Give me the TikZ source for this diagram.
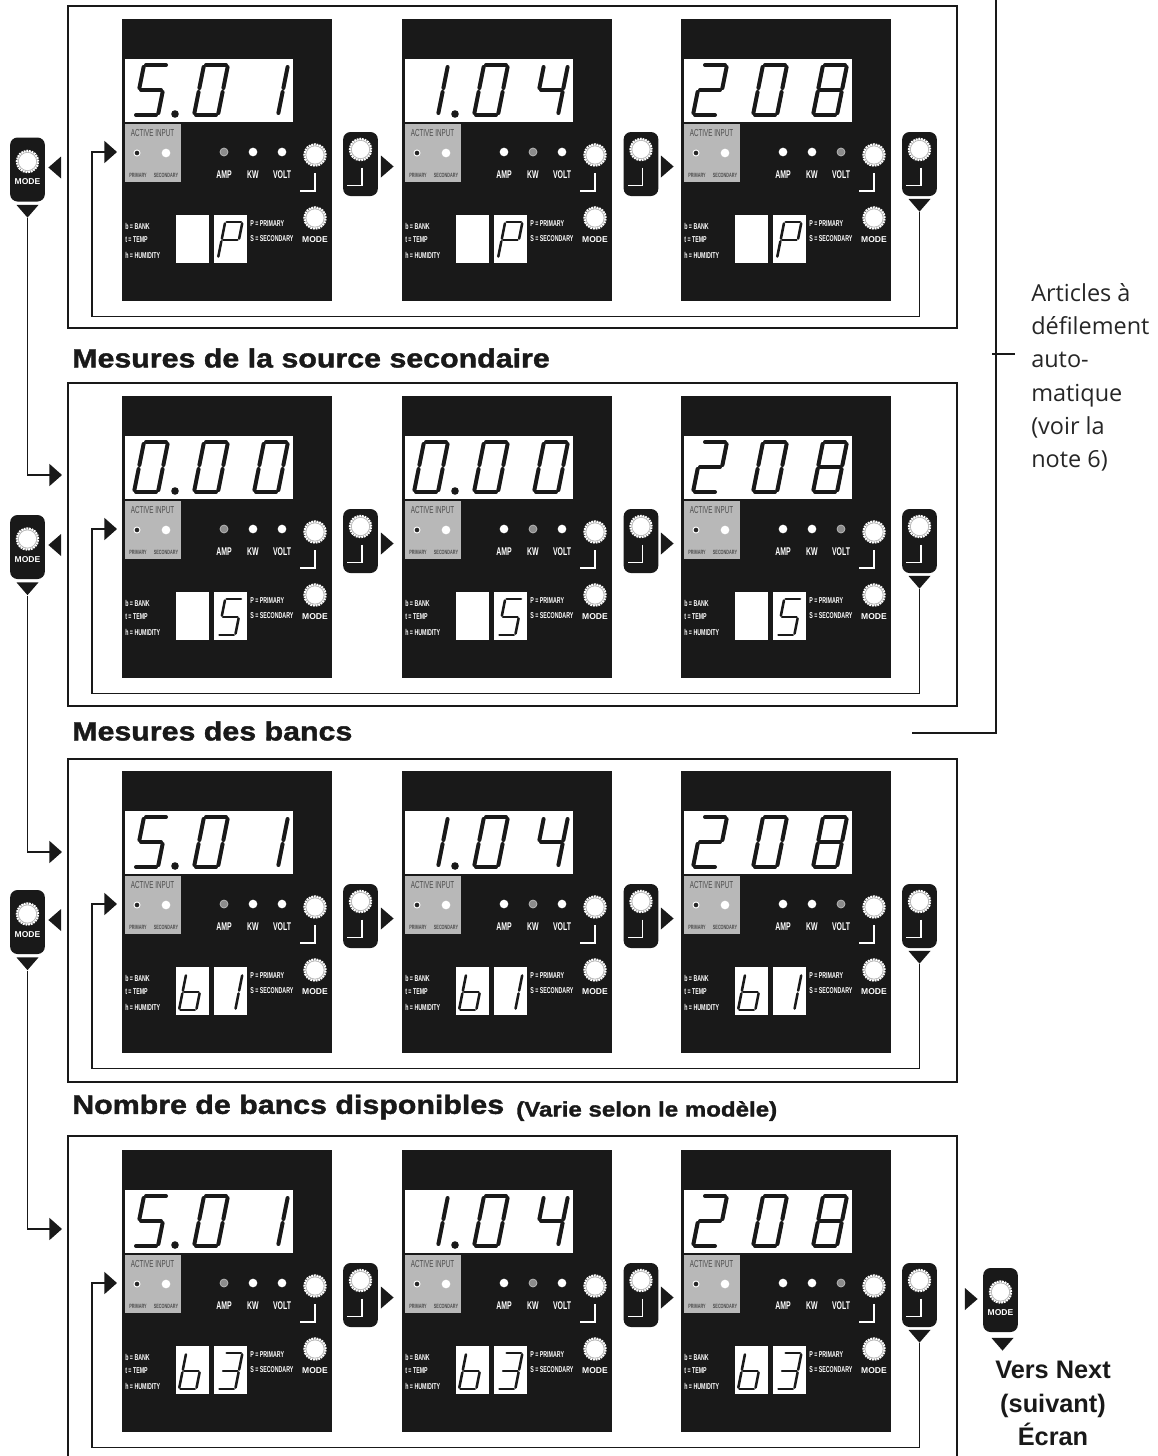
\documentclass[tikz,border=0pt]{standalone}
\usepackage{fontspec}
\usepackage{amsmath}
\usepackage{tikz}
\usetikzlibrary{arrows.meta,positioning,shapes.geometric}
\setmainfont{Liberation Sans}
\newfontfamily\headfont[BoldFeatures={FakeBold=1.5,FakeStretch=1.15}]{Liberation Sans}
\newfontfamily\notefont{Open Sans}
\newfontfamily\narrowfont[FakeStretch=0.62]{Liberation Sans}

% seven segments, local units are pixels of the big display
\def\sega{(2,0) -- (22,0)}
\def\segb{(24,2) -- (24,23)}
\def\segc{(24,27) -- (24,48)}
\def\segd{(2,50) -- (22,50)}
\def\sege{(0,27) -- (0,48)}
\def\segf{(0,2) -- (0,23)}
\def\segg{(2,25) -- (22,25)}
\def\dgtZ{a,b,c,d,e,f}
\def\dgtI{b,c}
\def\dgtII{a,b,g,e,d}
\def\dgtIII{a,b,g,c,d}
\def\dgtIV{f,g,b,c}
\def\dgtV{a,f,g,c,d}
\def\dgtVIII{a,b,c,d,e,f,g}
\def\dgtP{a,b,g,e,f}
\def\dgtb{f,e,d,c,g}

\tikzset{
  panel/.style={fill=black!90,inner sep=0pt,minimum width=157.5pt,minimum height=211pt,anchor=north west},
  remote/.style={fill=black!90,rounded corners=5.5pt,inner sep=0pt,minimum width=26pt,minimum height=48pt},
  window/.style={fill=white,inner sep=0pt,anchor=north west},
  graybox/.style={fill=black!28,inner sep=0pt,minimum width=41.5pt,minimum height=43.5pt,anchor=north west},
  knobring/.style={circle,fill=black!30,draw=white,line width=1.6pt,dash pattern=on 1.3pt off .7pt,inner sep=0pt,minimum size=16pt},
  knobcore/.style={circle,fill=white,inner sep=0pt,minimum size=13pt},
  ledon/.style={circle,fill=white,inner sep=0pt,minimum size=6.5pt},
  leddim/.style={circle,fill=black!45,draw=white!75!black,line width=.5pt,inner sep=0pt,minimum size=6pt},
  leddark/.style={circle,fill=black!85,draw=white,line width=.7pt,inner sep=0pt,minimum size=4.5pt},
  paneltext/.style={text=white,inner sep=0pt,font=\fontsize{6.4}{7}\selectfont\narrowfont\bfseries},
  ledtext/.style={text=white,inner sep=0pt,font=\fontsize{8.4}{9}\selectfont\narrowfont\bfseries},
  boxtext/.style={text=black!70,inner sep=0pt,font=\fontsize{4.6}{5}\selectfont\narrowfont\bfseries},
  modetext/.style={text=white,inner sep=0pt,font=\fontsize{6.4}{7}\selectfont\bfseries},
  tri/.style={isosceles triangle,isosceles triangle apex angle=85,isosceles triangle stretches,fill=black!90,inner sep=0pt,minimum height=9.5pt,minimum width=16.5pt,anchor=apex},
  triright/.style={tri,shape border rotate=0},
  trileft/.style={tri,shape border rotate=180},
  tridown/.style={tri,shape border rotate=-90},
  conn/.style={draw=black!90,line width=1.4pt},
  connarrow/.style={conn,-{Triangle[length=9.5pt,width=16.5pt]}},
  bigseg/.style={line width=3pt,line cap=round,black!90},
  smallseg/.style={line width=1.9pt,line cap=round,black!90},
  framebox/.style={draw=black!90,line width=1.9pt},
  sectiontitle/.style={inner sep=0pt,anchor=west,font=\fontsize{19.8}{22}\selectfont\headfont\bfseries,text=black!90},
}

\newcommand{\segdigit}[5]{%
  \begin{scope}[shift={({#1+10*#3},#2)},scale=#3,xslant=-0.2]
    \foreach \s in #5 {%
      \expandafter\let\expandafter\segpath\csname seg\s\endcsname
      \draw[#4] \segpath;
    }
  \end{scope}}
\newcommand{\bigdgt}[2]{\segdigit{12+60*(#1-1)}{46}{1}{bigseg}{#2}}
\newcommand{\bigdot}{\fill[black!90] (53,95) circle (3.8);}
\newcommand{\smallL}[1]{\segdigit{57}{203}{.72}{smallseg}{#1}}
\newcommand{\smallR}[1]{\segdigit{96}{203}{.72}{smallseg}{#1}}

\newcommand{\knob}[3]{%
  \node (#1) [knobring] at (#2,#3) {};
  \node (#1-c) [knobcore] at (#2,#3) {};}
\newcommand{\entersign}[2]{%
  \draw[white,line width=1.1pt] (#1,#2) -- (#1,#2+18) -- (#1-15,#2+18);}

\newcommand{\valsA}{\bigdgt{1}{\dgtV}\bigdot\bigdgt{2}{\dgtZ}\bigdgt{3}{\dgtI}}
\newcommand{\valsB}{\bigdgt{1}{\dgtI}\bigdot\bigdgt{2}{\dgtZ}\bigdgt{3}{\dgtIV}}
\newcommand{\valsC}{\bigdgt{1}{\dgtII}\bigdgt{2}{\dgtZ}\bigdgt{3}{\dgtVIII}}
\newcommand{\valsZ}{\bigdgt{1}{\dgtZ}\bigdot\bigdgt{2}{\dgtZ}\bigdgt{3}{\dgtZ}}

% name, x, row offset, code of small digits, code of big digits, dim led
\newcommand{\panelunit}[6]{%
  \begin{scope}[shift={(#2,#3+19)}]
    \node (#1) [panel] at (0,0) {};
    \node (#1-disp) [window,minimum width=125.5pt,minimum height=47pt] at (3,40) {};
    #5
    \node (#1-box) [graybox] at (3,105) {};
    \node (#1-act) [boxtext,font=\fontsize{7.6}{8}\selectfont\narrowfont] at (30.5,114) {ACTIVE INPUT};
    \node (#1-prim) [boxtext] at (16,156) {PRIMARY};
    \node (#1-sec) [boxtext] at (44,156) {SECONDARY};
    \node (#1-ledp) [leddark] at (15,134) {};
    \node (#1-leds) [ledon] at (44,134) {};
    \foreach \lx/\ly/\lt [count=\li] in {102/133/AMP,131/133/KW,160/133/VOLT} {
      \ifnum\li=#6
        \node (#1-led\li) [leddim] at (\lx,\ly) {};
      \else
        \node (#1-led\li) [ledon] at (\lx,\ly) {};
      \fi
      \node (#1-lab\li) [ledtext] at (\lx,156) {\lt};
    }
    \knob{#1-enter}{193}{136}
    \entersign{193}{154}
    \knob{#1-mode}{193}{199}
    \node (#1-modetxt) [modetext] at (193,221) {MODE};
    \node (#1-winl) [window,minimum width=24.5pt,minimum height=35.5pt] at (54,196) {};
    \node (#1-winr) [window,minimum width=24.5pt,minimum height=35.5pt] at (92,196) {};
    #4
    \node (#1-bank) [paneltext,anchor=west] at (3,207) {b = BANK};
    \node (#1-temp) [paneltext,anchor=west] at (3,221) {t = TEMP};
    \node (#1-hum) [paneltext,anchor=west] at (3,236) {h = HUMIDITY};
    \node (#1-pp) [paneltext,anchor=west] at (128,205) {P = PRIMARY};
    \node (#1-ss) [paneltext,anchor=west] at (128,220) {S = SECONDARY};
  \end{scope}}

\newcommand{\enterremote}[3]{%
  \node (#1) [remote] at (#2,#3) {};
  \knob{#1-k}{#2}{#3-14.5}
  \entersign{#2+1.5}{#3+3.5}}
\newcommand{\moderemote}[3]{%
  \node (#1) [remote] at (#2,#3) {};
  \knob{#1-k}{#2}{#3-8}
  \node (#1-t) [modetext] at (#2,#3+12.5) {MODE};}

% name, row offset, small digits, first and second value
\newcommand{\panelrow}[5]{%
  \panelunit{#1p1}{122}{#2}{#3}{#4}{1}
  \panelunit{#1p2}{402}{#2}{#3}{#5}{2}
  \panelunit{#1p3}{681}{#2}{#3}{\valsC}{3}
  \enterremote{#1r1}{360.5}{#2+164}
  \enterremote{#1r2}{641}{#2+164}
  \enterremote{#1r3}{919.5}{#2+164}
  \node (#1t1) [triright] at (394,#2+166.5) {};
  \node (#1t2) [triright] at (674,#2+166.5) {};
  \node (#1t3) [tridown] at (919.5,#2+212) {};
  \coordinate (#1entry) at (117,#2+152);
  \coordinate (#1corner) at (92,#2+316.5);
  \draw[connarrow] (#1t3.apex) |- (#1corner) |- (#1entry);}

\begin{document}
\begin{tikzpicture}[x=0.75pt,y=0.75pt,yscale=-1,xscale=1]
\useasboundingbox (0,0) rectangle (1157,1456);

%Shape: Rectangle frames
\draw[framebox] (68,6) rectangle (957,328);
\draw[framebox] (68,383) rectangle (957,706);
\draw[framebox] (68,759) rectangle (957,1082);
\draw[framebox] (68,1457) -- (68,1136) -- (957,1136) -- (957,1457);

% Panels
\panelrow{a}{0}{\smallR{\dgtP}}{\valsA}{\valsB}
\panelrow{b}{377}{\smallR{\dgtV}}{\valsZ}{\valsZ}
\panelrow{c}{752}{\smallL{\dgtb}\smallR{\dgtI}}{\valsA}{\valsB}
\panelrow{d}{1131}{\smallL{\dgtb}\smallR{\dgtIII}}{\valsA}{\valsB}

% Mode remotes on the left
\foreach \nm/\my in {a/169.5,b/547,c/922} {
  \moderemote{m\nm}{27.5}{\my}
  \node (m\nm-l) [trileft] at (48,\my-2) {};
  \node (m\nm-d) [tridown] at (27.5,\my+48.5) {};
}
\coordinate (bin) at (62,475);
\coordinate (cin) at (62,852);
\coordinate (din) at (62,1229);
\draw[connarrow] (ma-d.apex) |- (bin);
\draw[connarrow] (mb-d.apex) |- (cin);
\draw[connarrow] (mc-d.apex) |- (din);

% Last remote, towards next screen
\moderemote{mn}{1000.5}{1300}
\node (mn-r) [triright] at (978,1299) {};
\node (mn-d) [tridown] at (1002.5,1351) {};
\node (nextlabel) [align=center,inner sep=0pt,anchor=north,font=\fontsize{19}{25}\selectfont\bfseries,text=black!90] at (1053,1361) {Vers Next\\(suivant)\\Écran};

% Text Node
\node (title2) [sectiontitle] at (72,358) {Mesures de la source secondaire};
\node (title3) [sectiontitle] at (72,731) {Mesures des bancs};
\node (title4) [sectiontitle] at (72,1107) {Nombre de bancs disponibles};
\node (title4b) [sectiontitle,font=\fontsize{15.7}{17}\selectfont\headfont\bfseries] at (516,1111) {(Varie selon le modèle)};
\node (note) [align=left,inner sep=0pt,anchor=north west,font=\fontsize{17.6}{25}\selectfont\notefont,text=black!85] at (1031,283) {Articles à\\défilement\\auto-\\matique\\(voir la\\note 6)};

% Bracket
\coordinate (brtop) at (996,0);
\coordinate (brleft) at (912,733);
\coordinate (brmid) at (996,354);
\coordinate (brtick) at (1015,354);
\draw[conn] (brtop) |- (brleft);
\draw[conn] (brmid) ++(-4,0) -- (brtick);

\end{tikzpicture}
\end{document}
